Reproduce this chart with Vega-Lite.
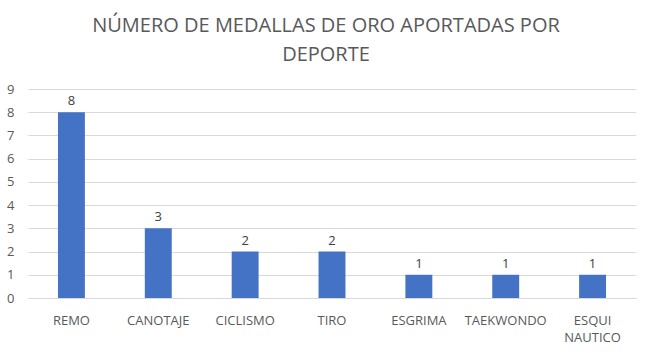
{
  "$schema": "https://vega.github.io/schema/vega-lite/v6.json",
  "width": 608,
  "height": 209,
  "autosize": "none",
  "padding": {"left": 28, "top": 89, "right": 17, "bottom": 56},
  "background": "white",
  "title": {
    "text": ["NÚMERO DE MEDALLAS DE ORO APORTADAS POR", "DEPORTE"],
    "anchor": "middle",
    "font": "Open Sans",
    "fontSize": 20,
    "fontWeight": "normal",
    "color": "#595959",
    "lineHeight": 29,
    "offset": 18,
    "dx": -6
  },
  "data": {
    "values": [
      {"deporte": "REMO", "medallas": 8},
      {"deporte": "CANOTAJE", "medallas": 3},
      {"deporte": "CICLISMO", "medallas": 2},
      {"deporte": "TIRO", "medallas": 2},
      {"deporte": "ESGRIMA", "medallas": 1},
      {"deporte": "TAEKWONDO", "medallas": 1},
      {"deporte": "ESQUI NAUTICO", "medallas": 1}
    ]
  },
  "encoding": {
    "x": {
      "field": "deporte",
      "type": "nominal",
      "sort": null,
      "scale": {"paddingInner": 0.69, "paddingOuter": 0.345},
      "axis": {
        "title": null,
        "labelAngle": 0,
        "labelFont": "Open Sans",
        "labelFontSize": 13,
        "labelColor": "#595959",
        "labelPadding": 16,
        "labelLineHeight": 17,
        "labelExpr": "split(datum.label, ' ')",
        "ticks": false,
        "domainColor": "#d9d9d9",
        "domainWidth": 1,
        "grid": false
      }
    },
    "y": {
      "field": "medallas",
      "type": "quantitative",
      "scale": {"domain": [0, 9]},
      "axis": {
        "title": null,
        "values": [0, 1, 2, 3, 4, 5, 6, 7, 8, 9],
        "labelFont": "Open Sans",
        "labelFontSize": 13,
        "labelColor": "#595959",
        "labelPadding": 14,
        "ticks": false,
        "domain": false,
        "gridColor": "#d9d9d9",
        "gridWidth": 1
      }
    }
  },
  "layer": [
    {"mark": {"type": "bar", "color": "#4472C4"}},
    {
      "mark": {
        "type": "text",
        "dy": -11,
        "font": "Open Sans",
        "fontSize": 13,
        "color": "#404040"
      },
      "encoding": {"text": {"field": "medallas", "type": "quantitative"}}
    }
  ],
  "config": {"view": {"stroke": null}}
}
